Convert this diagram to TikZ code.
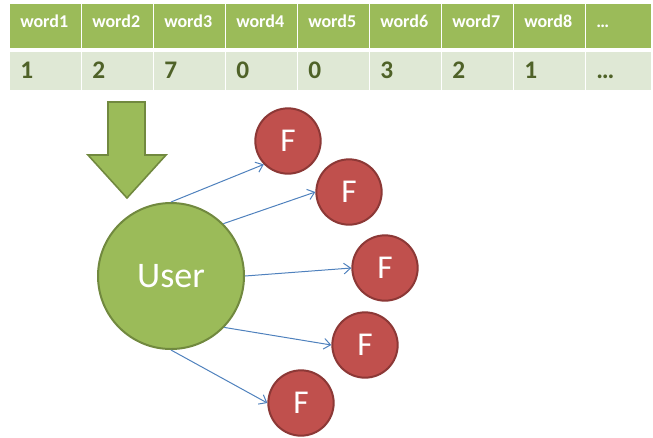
\documentclass[tikz,border=0pt]{standalone}
\usepackage{fontspec}
\setmainfont{Carlito}
\usetikzlibrary{arrows.meta}
\definecolor{hdgreen}{HTML}{9BBB59}
\definecolor{rowgreen}{HTML}{DFE8D5}
\definecolor{edgegreen}{HTML}{71893F}
\definecolor{textolive}{HTML}{4F6228}
\definecolor{fred}{HTML}{C0504D}
\definecolor{edgered}{HTML}{8C3836}
\definecolor{linkblue}{HTML}{4F81BD}
\begin{document}
\begin{tikzpicture}[x=0.75pt,y=-0.75pt,
  usernode/.style={circle,fill=hdgreen,draw=edgegreen,line width=1.5pt,minimum size=109.5pt,inner sep=0pt,text=white,font=\fontsize{27}{32}\selectfont},
  fnode/.style={circle,fill=fred,draw=edgered,line width=1.5pt,minimum size=49pt,inner sep=0pt,text=white,font=\fontsize{25}{30}\selectfont},
  link/.style={draw=linkblue,line width=0.75pt,-{Straight Barb[length=5pt,width=8pt]}}]
\useasboundingbox (0,0) rectangle (653,437);

% word table, header and counts
\foreach \i/\w/\n in {1/word1/1,2/word2/2,3/word3/7,4/word4/0,5/word5/0,6/word6/3,7/word7/2,8/word8/1,9/{\ldots}/{\ldots}} {
  \pgfmathsetmacro\xa{10+72*(\i-1)}
  \pgfmathsetmacro\xb{ifthenelse(\i==9,651,10+72*\i-1.5)}
  \fill[hdgreen] (\xa,4) rectangle (\xb,48);
  \fill[rowgreen] (\xa,52) rectangle (\xb,90);
  \node[anchor=base west,inner sep=0pt,text=white,font=\fontsize{13.5}{16}\selectfont\bfseries] (w\i) at (\xa+10,27) {\w};
  \node[anchor=base west,inner sep=0pt,text=textolive,font=\fontsize{19}{22}\selectfont\bfseries] (c\i) at (\xa+10,78) {\n};
}

% block arrow down to the user
\draw[fill=hdgreen,draw=edgegreen,line width=1.2pt] (108,102) -- (145,102) -- (145,155) -- (166,155) -- (127,198) -- (88,155) -- (108,155) -- cycle;

% user and features
\node[usernode] (user) at (171,276) {User};
\foreach \n/\x/\y in {1/288/141,2/349/192,3/385/268,4/365/345,5/301/403}
  \node[fnode] (f\n) at (\x,\y) {F};

\foreach \a/\n/\b in {90/1/224,45/2/180,0/3/180,316/4/180,270/5/180}
  \draw[link] (user.\a) -- (f\n.\b);
\end{tikzpicture}
\end{document}
